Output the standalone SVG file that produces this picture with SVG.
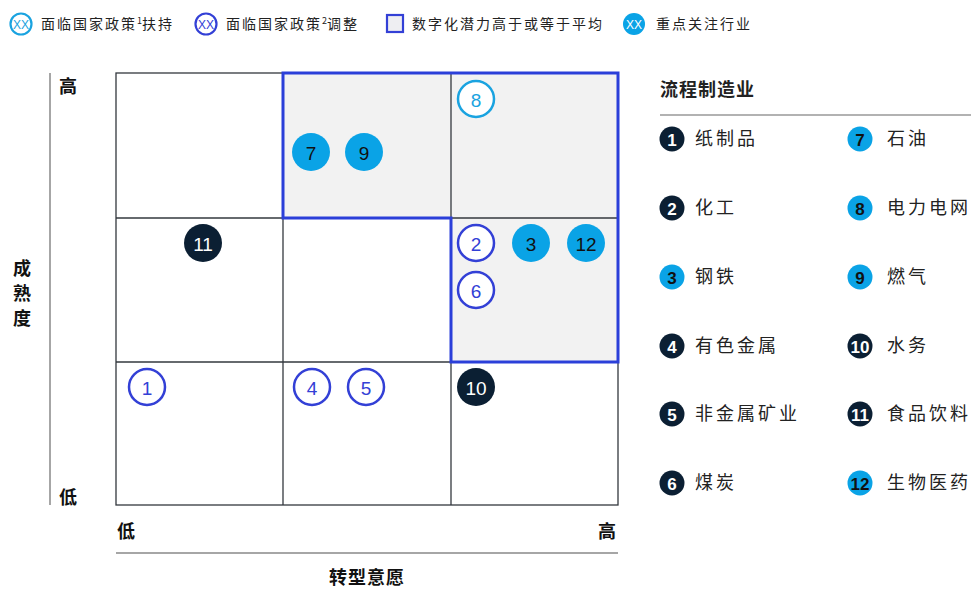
<svg xmlns="http://www.w3.org/2000/svg" width="971" height="590" viewBox="0 0 971 590">
<style>
.cn{font-family:"Noto Sans CJK SC","Noto Sans",sans-serif;fill:#222}
.lg{font-size:14px;letter-spacing:2px}
.it{font-size:18px;letter-spacing:3px}
.ax{font-size:18px;font-weight:bold;fill:#111}
.num{font-family:"Liberation Sans",Arial,sans-serif;font-size:19px;text-anchor:middle;dominant-baseline:central}
.lnum{font-family:"Liberation Sans",Arial,sans-serif;font-size:17px;font-weight:bold;text-anchor:middle;dominant-baseline:central}
.xx{font-family:"Liberation Sans",Arial,sans-serif;font-size:12px;text-anchor:middle;dominant-baseline:central}
.grid{fill:none;stroke:#33383e;stroke-width:1.3}
.ol{fill:#fff;stroke:#3340d6;stroke-width:2.5}
.oll{fill:#fff;stroke:#1aa3e0;stroke-width:2.5}
.fl{fill:#0aa3e6}
.dk{fill:#0b1f33}
</style>
<rect width="971" height="590" fill="#fff"/>
<g id="legend">
<circle cx="21" cy="24" r="10.5" fill="#fff" stroke="#1aa3e0" stroke-width="2.2"/>
<text x="21" y="25" class="xx" fill="#1aa3e0">XX</text>
<text x="41" y="29" class="cn lg">面临国家政策<tspan font-size="9" dy="-5" letter-spacing="0">1</tspan><tspan dy="5">扶持</tspan></text>
<circle cx="206" cy="24" r="10.5" fill="#fff" stroke="#3340d6" stroke-width="2.2"/>
<text x="206" y="25" class="xx" fill="#3340d6">XX</text>
<text x="226" y="29" class="cn lg">面临国家政策<tspan font-size="9" dy="-5" letter-spacing="0">2</tspan><tspan dy="5">调整</tspan></text>
<rect x="387" y="15" width="16" height="17" fill="#eeeef2" stroke="#3340d6" stroke-width="2.2"/>
<text x="412" y="29" class="cn lg">数字化潜力高于或等于平均</text>
<circle cx="634" cy="24" r="11" fill="#0aa3e6"/>
<text x="634" y="25" class="xx" fill="#fff">XX</text>
<text x="656" y="29" class="cn lg">重点关注行业</text>
</g>
<g id="matrix">
<polygon points="283,73 618,73 618,362 451,362 451,218 283,218" fill="#f2f2f2"/>
<rect x="116" y="73" width="502" height="432" class="grid"/>
<line x1="283" y1="73" x2="283" y2="505" class="grid"/>
<line x1="451" y1="73" x2="451" y2="505" class="grid"/>
<line x1="116" y1="218" x2="618" y2="218" class="grid"/>
<line x1="116" y1="362" x2="618" y2="362" class="grid"/>
<polygon points="283,73 618,73 618,362 451,362 451,218 283,218" fill="none" stroke="#2b3fd9" stroke-width="3"/>
</g>
<g id="axes">
<line x1="50" y1="73" x2="50" y2="505" stroke="#888" stroke-width="1.5"/>
<text x="68" y="93" class="cn ax" text-anchor="middle">高</text>
<text x="68" y="504" class="cn ax" text-anchor="middle">低</text>
<text x="22" y="275" class="cn ax" text-anchor="middle">成</text>
<text x="22" y="300" class="cn ax" text-anchor="middle">熟</text>
<text x="22" y="325" class="cn ax" text-anchor="middle">度</text>
<text x="126" y="538" class="cn ax" text-anchor="middle">低</text>
<text x="607" y="538" class="cn ax" text-anchor="middle">高</text>
<line x1="116" y1="553" x2="618" y2="553" stroke="#888" stroke-width="1.5"/>
<text x="367" y="584" class="cn ax" text-anchor="middle" letter-spacing="1">转型意愿</text>
</g>
<g id="n8"><circle cx="476" cy="99" r="18" class="oll"/><text x="476" y="100" class="num" fill="#1aa3e0">8</text></g>
<g id="n7"><circle cx="311" cy="152" r="19" class="fl"/><text x="311" y="153" class="num" fill="#111">7</text></g>
<g id="n9"><circle cx="364" cy="152" r="19" class="fl"/><text x="364" y="153" class="num" fill="#111">9</text></g>
<g id="n11"><circle cx="203" cy="243" r="19" class="dk"/><text x="203" y="244" class="num" fill="#fff">11</text></g>
<g id="n2"><circle cx="476" cy="243" r="18" class="ol"/><text x="476" y="244" class="num" fill="#3340d6">2</text></g>
<g id="n3"><circle cx="531" cy="243" r="19" class="fl"/><text x="531" y="244" class="num" fill="#111">3</text></g>
<g id="n12"><circle cx="586" cy="243" r="19" class="fl"/><text x="586" y="244" class="num" fill="#111">12</text></g>
<g id="n6"><circle cx="476" cy="290" r="18" class="ol"/><text x="476" y="291" class="num" fill="#3340d6">6</text></g>
<g id="n1"><circle cx="147" cy="387" r="18" class="ol"/><text x="147" y="388" class="num" fill="#3340d6">1</text></g>
<g id="n4"><circle cx="312" cy="387" r="18" class="ol"/><text x="312" y="388" class="num" fill="#3340d6">4</text></g>
<g id="n5"><circle cx="366" cy="387" r="18" class="ol"/><text x="366" y="388" class="num" fill="#3340d6">5</text></g>
<g id="n10"><circle cx="476" cy="387" r="19" class="dk"/><text x="476" y="388" class="num" fill="#fff">10</text></g>
<g id="panel">
<text x="660" y="96" class="cn" font-size="18" font-weight="bold" fill="#111" letter-spacing="1">流程制造业</text>
<line x1="660" y1="115" x2="971" y2="115" stroke="#999" stroke-width="1.5"/>
<circle cx="672" cy="139" r="12.5" class="dk"/><text x="672" y="140" class="lnum" fill="#fff">1</text><text x="695" y="145" class="cn it">纸制品</text>
<circle cx="672" cy="208" r="12.5" class="dk"/><text x="672" y="209" class="lnum" fill="#fff">2</text><text x="695" y="214" class="cn it">化工</text>
<circle cx="672" cy="277" r="12.5" class="fl"/><text x="672" y="278" class="lnum" fill="#111">3</text><text x="695" y="283" class="cn it">钢铁</text>
<circle cx="672" cy="346" r="12.5" class="dk"/><text x="672" y="347" class="lnum" fill="#fff">4</text><text x="695" y="352" class="cn it">有色金属</text>
<circle cx="672" cy="414" r="12.5" class="dk"/><text x="672" y="415" class="lnum" fill="#fff">5</text><text x="695" y="420" class="cn it">非金属矿业</text>
<circle cx="672" cy="483" r="12.5" class="dk"/><text x="672" y="484" class="lnum" fill="#fff">6</text><text x="695" y="489" class="cn it">煤炭</text>
<circle cx="860" cy="139" r="12.5" class="fl"/><text x="860" y="140" class="lnum" fill="#111">7</text><text x="887" y="145" class="cn it">石油</text>
<circle cx="860" cy="208" r="12.5" class="fl"/><text x="860" y="209" class="lnum" fill="#111">8</text><text x="887" y="214" class="cn it">电力电网</text>
<circle cx="860" cy="277" r="12.5" class="fl"/><text x="860" y="278" class="lnum" fill="#111">9</text><text x="887" y="283" class="cn it">燃气</text>
<circle cx="860" cy="346" r="12.5" class="dk"/><text x="860" y="347" class="lnum" fill="#fff">10</text><text x="887" y="352" class="cn it">水务</text>
<circle cx="860" cy="414" r="12.5" class="dk"/><text x="860" y="415" class="lnum" fill="#fff">11</text><text x="887" y="420" class="cn it">食品饮料</text>
<circle cx="860" cy="483" r="12.5" class="fl"/><text x="860" y="484" class="lnum" fill="#111">12</text><text x="887" y="489" class="cn it">生物医药</text>
</g>
</svg>
